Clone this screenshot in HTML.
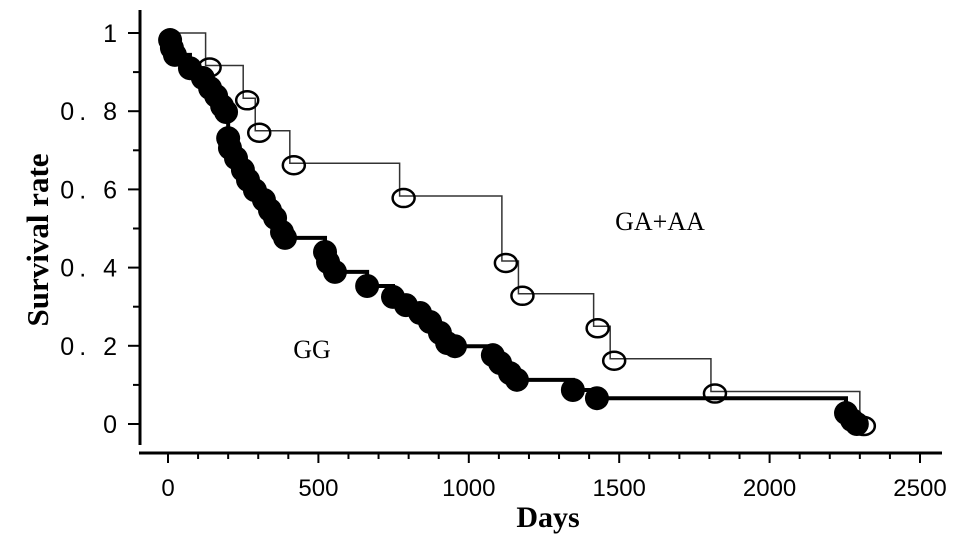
<!DOCTYPE html>
<html><head><meta charset="utf-8"><style>
html,body{margin:0;padding:0;background:#fff;}
svg{display:block;}
</style></head><body>
<svg id="chart" width="969" height="555" viewBox="0 0 969 555">
<g id="axes"></g><g id="series"></g>
<text x="312" y="358" font-family="Liberation Serif, serif" font-size="26" text-anchor="middle">GG</text>
<text x="660" y="230" font-family="Liberation Serif, serif" font-size="26" text-anchor="middle">GA+AA</text>
<text x="548" y="527" font-family="Liberation Serif, serif" font-size="30" font-weight="bold" text-anchor="middle">Days</text>
<text transform="translate(48,240) rotate(-90)" font-family="Liberation Serif, serif" font-size="31" font-weight="bold" text-anchor="middle">Survival rate</text>
</svg>
<script>
const xTicks=[0,500,1000,1500,2000,2500];
const yTicks=[0,0.2,0.4,0.6,0.8,1];
const yTickLabels=["0","0. 2","0. 4","0. 6","0. 8","1"];
const gaDays=[125,250,290,405,770,1110,1165,1415,1470,1805,2300];
const gaSurv=[0.917,0.833,0.75,0.667,0.583,0.417,0.333,0.25,0.167,0.083,0];
const ggDays=[7,13,23,73,116,140,160,180,193,200,206,226,249,266,289,319,339,356,379,389,522,532,555,662,748,791,838,871,904,928,954,1080,1104,1137,1160,1346,1426,2254,2274,2290];
const ggSurv=[0.982,0.962,0.944,0.910,0.885,0.859,0.839,0.813,0.798,0.731,0.706,0.680,0.650,0.624,0.598,0.573,0.547,0.527,0.491,0.476,0.440,0.414,0.389,0.353,0.325,0.304,0.284,0.261,0.233,0.207,0.199,0.176,0.156,0.130,0.113,0.087,0.066,0.028,0.010,0];
const NS="http://www.w3.org/2000/svg";
const X=d=>168+d*0.3008;
const Y=s=>424-s*391;
function mk(tag,attrs,parent){const e=document.createElementNS(NS,tag);for(const k in attrs)e.setAttribute(k,attrs[k]);parent.appendChild(e);return e;}
const ax=document.getElementById('axes');
const sr=document.getElementById('series');
let e=mk('line',{x1:140,y1:10,x2:140,y2:445,stroke:'#000','stroke-width':3},ax);


e=mk('line',{x1:139,y1:453,x2:942,y2:453,stroke:'#000','stroke-width':3},ax);


for(let v=0;v<=1.0001;v+=0.1){const y=Y(v);const major=Math.round(v*10)%2===0;
 e=mk('line',{x1:major?128:133,y1:y,x2:140,y2:y,stroke:'#000','stroke-width':2},ax);
 
 }
yTicks.forEach((v,i)=>{e=mk('text',{x:122,y:Y(v)+9,'font-family':'Liberation Sans, sans-serif','font-size':25,'letter-spacing':5,'text-anchor':'end'},ax);e.textContent=yTickLabels[i];
 
 });
for(let d=0;d<=2500;d+=100){const x=X(d);const major=d%500===0;
 e=mk('line',{x1:x,y1:453,x2:x,y2:major?463:459,stroke:'#000','stroke-width':2},ax);
 
 }
xTicks.forEach(v=>{e=mk('text',{x:X(v),y:496,'font-family':'Liberation Sans, sans-serif','font-size':24,'text-anchor':'middle'},ax);e.textContent=String(v);
 
 });
function stepPath(days,surv){let p='M'+X(0)+','+Y(1);days.forEach((d,i)=>{p+=' H'+X(d)+' V'+Y(surv[i]);});return p;}
e=mk('path',{d:stepPath(gaDays,gaSurv),fill:'none',stroke:'#333','stroke-width':1.5},sr);


e=mk('path',{d:stepPath(ggDays,ggSurv),fill:'none',stroke:'#000','stroke-width':4},sr);


gaDays.forEach((d,i)=>{e=mk('ellipse',{cx:X(d)+4,cy:Y(gaSurv[i])+2,rx:11,ry:9,fill:'none',stroke:'#000','stroke-width':2.5},sr);
 
 });
ggDays.forEach((d,i)=>{e=mk('circle',{cx:X(d),cy:Y(ggSurv[i]),r:12,fill:'#000'},sr);
 
 });
</script>
</body></html>
